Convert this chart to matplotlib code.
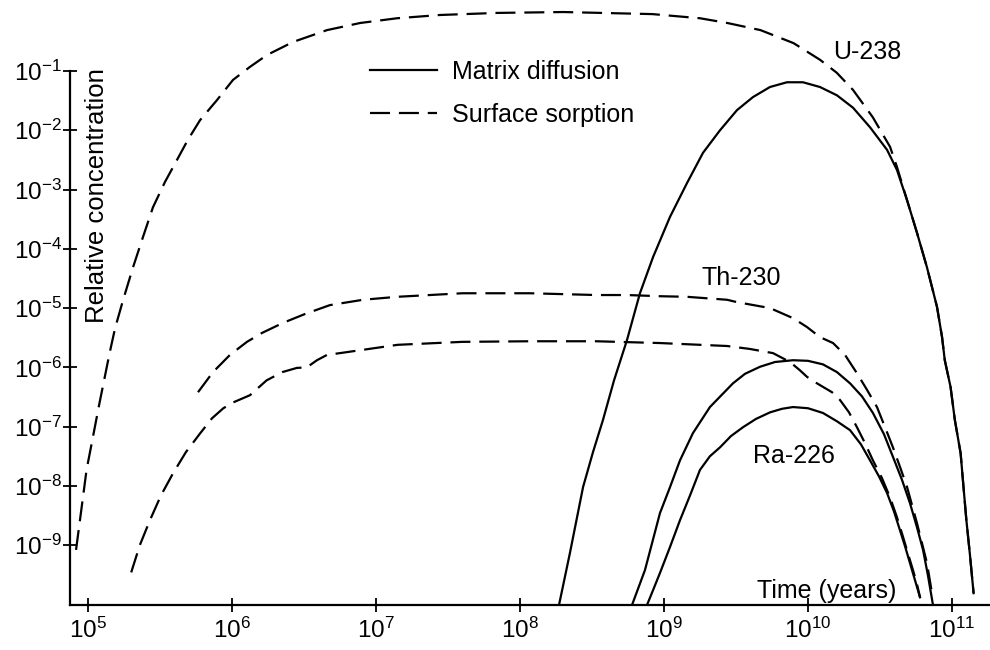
import matplotlib
matplotlib.use("Agg")
import matplotlib.pyplot as plt
import numpy as np

plt.rcParams["font.family"] = ["Liberation Sans", "DejaVu Sans"]
plt.rcParams["mathtext.fontset"] = "custom"
plt.rcParams["mathtext.rm"] = "Liberation Sans"
plt.rcParams["mathtext.it"] = "Liberation Sans"

# curves, as log10(time in years) and log10(relative concentration)
u238_surf_logt = [4.917, 4.99, 5.08, 5.15, 5.188, 5.243, 5.313, 5.382, 5.451, 5.535, 5.618, 5.694,
                  5.778, 5.896, 6.007, 6.125, 6.243, 6.424, 6.66, 6.89, 7.146, 7.444, 7.84, 8.30,
                  8.92, 9.25, 9.44, 9.67, 9.9, 10.083, 10.2, 10.313, 10.45, 10.57, 10.618,
                  10.688, 10.757, 10.826, 10.896, 10.931, 10.95, 10.99, 11.02, 11.06, 11.08,
                  11.10, 11.125, 11.15]
u238_surf_logc = [-9.08, -7.73, -6.6, -5.76, -5.34, -4.87, -4.31, -3.80, -3.30, -2.87, -2.50, -2.16,
                  -1.83, -1.49, -1.15, -0.93, -0.73, -0.51, -0.31, -0.19, -0.11, -0.055, -0.02, -0.005,
                  -0.04, -0.11, -0.19, -0.31, -0.53, -0.81, -1.03, -1.32, -1.78, -2.28, -2.62,
                  -3.18, -3.73, -4.31, -4.98, -5.49, -5.88, -6.33, -6.89, -7.45, -8.02,
                  -8.58, -9.17, -9.81]

u238_matrix_logt = [8.271, 8.347, 8.438, 8.507, 8.576, 8.653, 8.743, 8.833, 8.924, 9.042, 9.160,
                    9.271, 9.389, 9.507, 9.618, 9.736, 9.854, 9.965, 10.083, 10.201, 10.313,
                    10.431, 10.549, 10.618, 10.688, 10.757, 10.826, 10.896, 10.931, 10.95, 10.99,
                    11.02, 11.06, 11.08, 11.10, 11.125, 11.15]
u238_matrix_logc = [-10.01, -9.13, -8.02, -7.43, -6.89, -6.22, -5.54, -4.75, -4.14, -3.46, -2.89,
                    -2.38, -2.00, -1.66, -1.44, -1.27, -1.19, -1.19, -1.27, -1.41, -1.62,
                    -1.95, -2.33, -2.67, -3.18, -3.73, -4.31, -4.98, -5.49, -5.88, -6.33,
                    -6.89, -7.45, -8.02, -8.58, -9.17, -9.81]

th230_surf_logt = [5.764, 5.868, 5.986, 6.104, 6.208, 6.354, 6.507, 6.68, 6.91, 7.146, 7.6, 8.07,
                   8.53, 8.743, 8.972, 9.16, 9.438, 9.507, 9.736, 9.896, 9.993, 10.083, 10.174,
                   10.257, 10.34, 10.41, 10.479, 10.535, 10.59, 10.639, 10.688, 10.722, 10.757,
                   10.792, 10.826, 10.861]
th230_surf_logc = [-6.42, -6.08, -5.79, -5.57, -5.42, -5.25, -5.10, -4.95, -4.86, -4.81, -4.75, -4.75,
                   -4.78, -4.78, -4.80, -4.81, -4.86, -4.90, -5.0, -5.17, -5.32, -5.49, -5.59,
                   -5.79, -6.10, -6.38, -6.67, -7.01, -7.35, -7.68, -8.02, -8.32, -8.63,
                   -8.97, -9.30, -9.81]

ra226_surf_logt = [5.30, 5.36, 5.43, 5.507, 5.59, 5.68, 5.78, 5.861, 5.94, 6.01, 6.125, 6.24, 6.35,
                   6.45, 6.52, 6.59, 6.66, 6.75, 7.15, 7.6, 8.07, 8.53, 8.97, 9.438, 9.597,
                   9.757, 9.875, 9.944, 9.993, 10.049, 10.104, 10.167, 10.222, 10.285, 10.34,
                   10.396, 10.451, 10.514, 10.569, 10.618, 10.66, 10.694, 10.729, 10.757, 10.778]
ra226_surf_logc = [-9.46, -9.0, -8.58, -8.16, -7.79, -7.43, -7.11, -6.86, -6.69, -6.59, -6.47, -6.22, -6.08,
                   -6.01, -6.0, -5.88, -5.79, -5.76, -5.62, -5.57, -5.56, -5.56, -5.59, -5.64, -5.69,
                   -5.76, -5.91, -6.05, -6.16, -6.25, -6.33, -6.42, -6.55, -6.76, -7.01,
                   -7.28, -7.57, -7.87, -8.19, -8.53, -8.86, -9.14, -9.42, -9.66, -9.88]

th230_matrix_logt = [8.778, 8.868, 8.972, 9.042, 9.111, 9.201, 9.319, 9.479, 9.562, 9.667, 9.771,
                     9.896, 10.0, 10.104, 10.201, 10.292, 10.375, 10.451, 10.528, 10.590, 10.653,
                     10.708, 10.757, 10.799, 10.833, 10.868]
th230_matrix_logc = [-10.01, -9.42, -8.46, -8.02, -7.57, -7.11, -6.67, -6.27, -6.11, -5.99, -5.91,
                     -5.88, -5.89, -5.95, -6.08, -6.27, -6.49, -6.77, -7.13, -7.51, -7.9,
                     -8.29, -8.70, -9.08, -9.51, -10.01]

ra226_matrix_logt = [8.882, 8.924, 8.972, 9.042, 9.111, 9.181, 9.25, 9.319, 9.389, 9.465, 9.549,
                     9.639, 9.736, 9.819, 9.896, 10.0, 10.104, 10.201, 10.292, 10.368, 10.431,
                     10.493, 10.549, 10.597, 10.639, 10.674, 10.708, 10.743, 10.778]
ra226_matrix_logc = [-10.01, -9.76, -9.47, -9.03, -8.58, -8.16, -7.73, -7.5, -7.35, -7.16, -7.01,
                     -6.87, -6.76, -6.70, -6.67, -6.69, -6.77, -6.91, -7.06, -7.30, -7.57,
                     -7.84, -8.12, -8.43, -8.75, -9.02, -9.30, -9.59, -9.88]

x_ticks = [1e5, 1e6, 1e7, 1e8, 1e9, 1e10, 1e11]
y_ticks = [1e-9, 1e-8, 1e-7, 1e-6, 1e-5, 1e-4, 1e-3, 1e-2, 1e-1]

solid = dict(color="black", lw=1.6, linestyle="-", solid_joinstyle="round")
dashed = dict(color="black", lw=1.6, linestyle=(0, (9, 4)))

fig = plt.figure(figsize=(9.9, 6.5), dpi=100)
ax = fig.add_axes([70 / 990, 1 - 605 / 650, 920 / 990, 605 / 650])
ax.set_xscale("log")
ax.set_yscale("log")
ax.set_xlim(10 ** 4.875, 10 ** 11.264)
ax.set_ylim(10 ** -10.01, 10 ** 0.198)


def p(logt, logc, style, label=None):
    ax.plot(10 ** np.array(logt), 10 ** np.array(logc), label=label, **style)


p(u238_surf_logt, u238_surf_logc, dashed, "Surface sorption")
p(u238_matrix_logt, u238_matrix_logc, solid, "Matrix diffusion")
p(th230_surf_logt, th230_surf_logc, dashed)
p(ra226_surf_logt, ra226_surf_logc, dashed)
p(th230_matrix_logt, th230_matrix_logc, solid)
p(ra226_matrix_logt, ra226_matrix_logc, solid)

ax.spines["top"].set_visible(False)
ax.spines["right"].set_visible(False)
ax.spines["left"].set_bounds(10 ** -10.01, 1e-1)
for s in ("left", "bottom"):
    ax.spines[s].set_linewidth(1.6)

ax.set_xticks(x_ticks)
ax.set_yticks(y_ticks)
ax.minorticks_off()
ax.tick_params(direction="inout", length=10, width=1.3, labelsize=17.5)
ax.tick_params(axis="x", pad=4)
ax.tick_params(axis="y", pad=1)

ax.text(10 ** 10.41, 10 ** -0.68, "U-238", fontsize=18, ha="center", va="center")
ax.text(10 ** 9.54, 10 ** -4.49, "Th-230", fontsize=18, ha="center", va="center")
ax.text(10 ** 9.90, 10 ** -7.5, "Ra-226", fontsize=18, ha="center", va="center")
ax.text(10 ** 10.13, 10 ** -9.78, "Time (years)", fontsize=18, ha="center", va="center")
fig.text(97 / 990, 1 - 196 / 650, "Relative concentration", fontsize=18.5,
         rotation=90, ha="center", va="center")

handles, labels = ax.get_legend_handles_labels()
ax.legend(handles[::-1], labels[::-1], loc="upper left", bbox_to_anchor=(370 / 990, 1 - 60 / 650),
          bbox_transform=fig.transFigure, frameon=False, fontsize=18, handlelength=2.68,
          handletextpad=0.6, labelspacing=0.75, borderpad=0, borderaxespad=0)

fig.savefig("out.png", dpi=100)
